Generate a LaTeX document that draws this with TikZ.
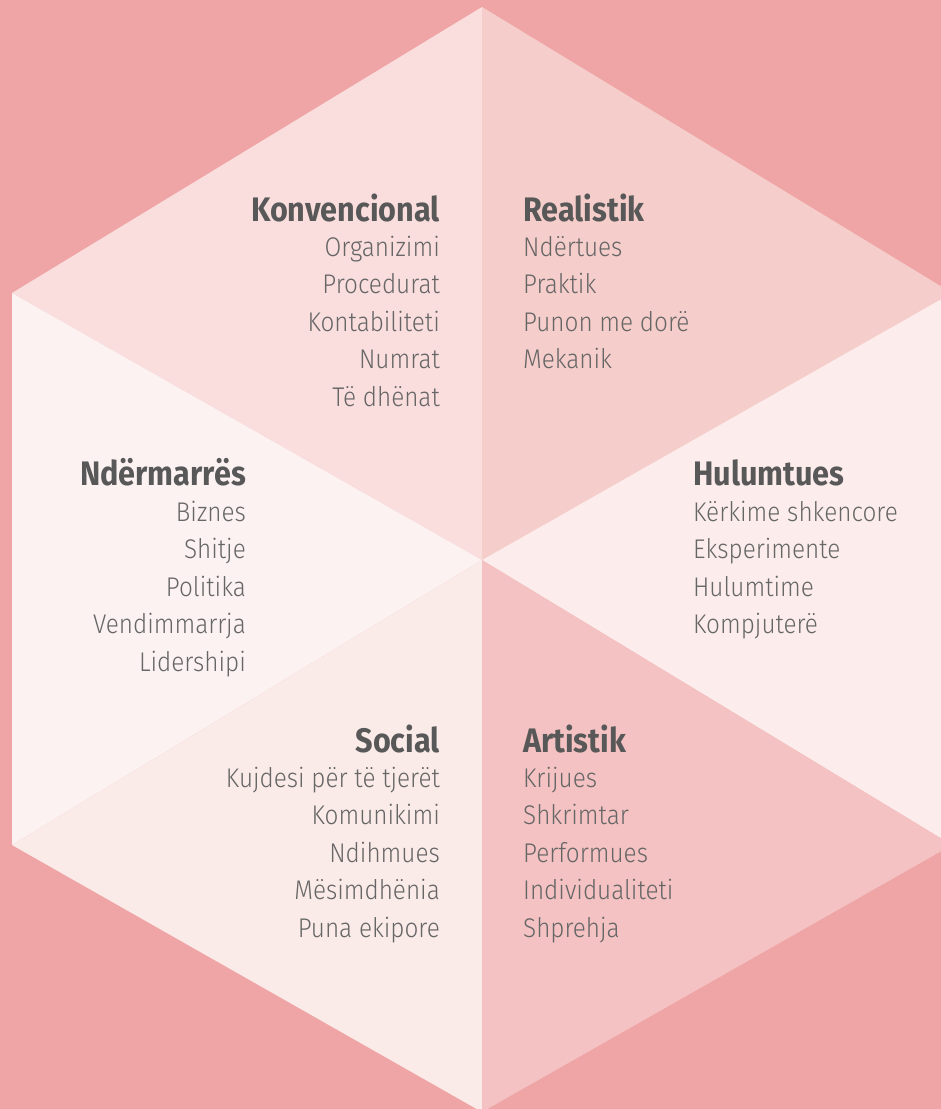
\documentclass[tikz,border=0pt]{standalone}
\usepackage{fontspec}
\setmainfont{Fira Sans}[FakeStretch=0.9]
\newfontfamily\itemfont{Fira Sans Light}[FakeStretch=0.9]
\definecolor{bgpink}{HTML}{EFA5A6}
\definecolor{ctl}{HTML}{FADDDD}
\definecolor{ctr}{HTML}{F5CDCA}
\definecolor{cl}{HTML}{FCF2F1}
\definecolor{cr}{HTML}{FCEDEC}
\definecolor{cbl}{HTML}{FAEBE8}
\definecolor{cbr}{HTML}{F4C2C2}
\definecolor{headgray}{HTML}{585858}
\definecolor{itemgray}{HTML}{666666}
\tikzset{
  head/.style={font=\bfseries\fontsize{34}{40}\selectfont, text=headgray, inner sep=0pt},
  item/.style={font=\itemfont\fontsize{27}{31}\selectfont, text=itemgray, inner sep=0pt},
}
\begin{document}
\begin{tikzpicture}[x=1pt,y=-1pt]
\fill[bgpink] (0,0) rectangle (941,1109);
\useasboundingbox (0,0) rectangle (941,1109);
\coordinate (T) at (482,7);
\coordinate (UL) at (12,293);
\coordinate (LL) at (12,845);
\coordinate (B) at (482,1112);
\coordinate (LR) at (952,845);
\coordinate (UR) at (952,293);
\coordinate (C) at (482,560);
\fill[ctl] (T) -- (UL) -- (C) -- cycle;
\fill[ctr] (T) -- (UR) -- (C) -- cycle;
\fill[cl] (UL) -- (LL) -- (C) -- cycle;
\fill[cr] (UR) -- (LR) -- (C) -- cycle;
\fill[cbl] (LL) -- (B) -- (C) -- cycle;
\fill[cbr] (LR) -- (B) -- (C) -- cycle;
% Konvencional
\node[head, anchor=base east] (hk) at (440,221) {Konvencional};
\foreach \t [count=\i] in {Organizimi,Procedurat,Kontabiliteti,Numrat,Të dhënat}
  \node[item, anchor=base east] (k\i) at (440,{256+37.5*(\i-1)}) {\t};
% Realistik
\node[head, anchor=base west] (hr) at (523,221) {Realistik};
\foreach \t [count=\i] in {Ndërtues,Praktik,Punon me dorë,Mekanik}
  \node[item, anchor=base west] (r\i) at (523,{256+37.5*(\i-1)}) {\t};
% Ndërmarrës
\node[head, anchor=base east] (hn) at (246,485) {Ndërmarrës};
\foreach \t [count=\i] in {Biznes,Shitje,Politika,Vendimmarrja,Lidershipi}
  \node[item, anchor=base east] (n\i) at (246,{521+37.5*(\i-1)}) {\t};
% Hulumtues
\node[head, anchor=base west] (hh) at (693,485) {Hulumtues};
\foreach \t [count=\i] in {Kërkime shkencore,Eksperimente,Hulumtime,Kompjuterë}
  \node[item, anchor=base west] (h\i) at (693,{521+37.5*(\i-1)}) {\t};
% Social
\node[head, anchor=base east] (hs) at (440,752) {Social};
\foreach \t [count=\i] in {Kujdesi për të tjerët,Komunikimi,Ndihmues,Mësimdhënia,Puna ekipore}
  \node[item, anchor=base east] (s\i) at (440,{787+37.5*(\i-1)}) {\t};
% Artistik
\node[head, anchor=base west] (ha) at (523,752) {Artistik};
\foreach \t [count=\i] in {Krijues,Shkrimtar,Performues,Individualiteti,Shprehja}
  \node[item, anchor=base west] (a\i) at (523,{787+37.5*(\i-1)}) {\t};
\end{tikzpicture}
\end{document}
